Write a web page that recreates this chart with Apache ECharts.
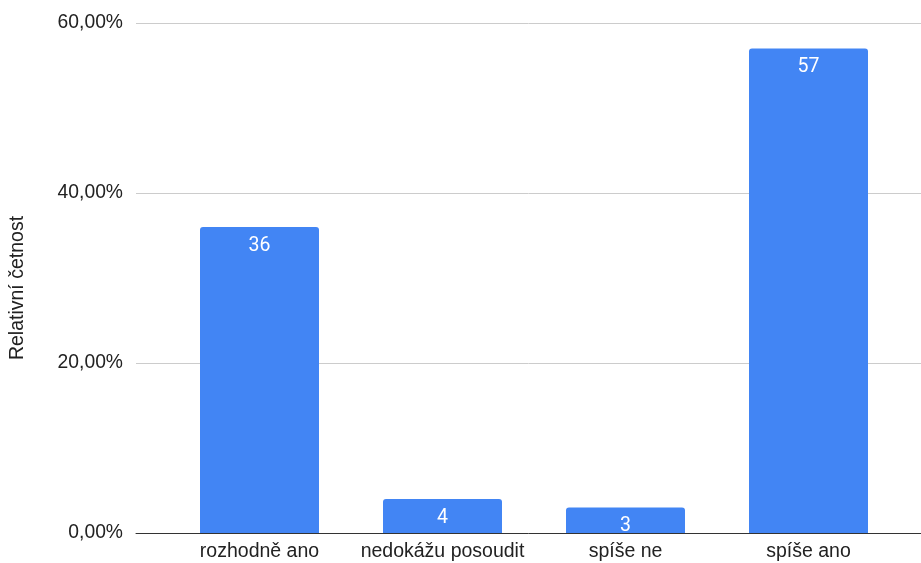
<!DOCTYPE html>
<html>
<head>
<meta charset="utf-8">
<script src="https://cdn.jsdelivr.net/npm/echarts@6/dist/echarts.min.js"></script>
<style>
  html, body { margin: 0; padding: 0; background: #fff; }
  #chart { width: 921px; height: 563px; }
</style>
</head>
<body>
<div id="chart"></div>
<script>
// Survey answers and their relative frequency (%)
const categories = ['rozhodně ano', 'nedokážu posoudit', 'spíše ne', 'spíše ano'];
const values = [36, 4, 3, 57];
const yTicks = [0, 20, 40, 60];
const axisTitle = 'Relativní četnost';

const fontMain = '"Liberation Sans", Arial, sans-serif';
const chart = echarts.init(document.getElementById('chart'), null, { renderer: 'canvas' });

chart.setOption({
  animation: false,
  grid: [
    // gridlines + y labels span the full width
    { left: 136, right: 0, top: 23, bottom: 30 },
    // bars sit in a narrower band
    { left: 168, right: 21, top: 23, bottom: 30 }
  ],
  xAxis: [
    {
      gridIndex: 0, type: 'value', min: 0, max: 1,
      axisLabel: { show: false }, axisTick: { show: false }, splitLine: { show: false },
      axisLine: { show: true, lineStyle: { color: '#333333', width: 1 } }
    },
    {
      gridIndex: 1, type: 'category', data: categories,
      axisLine: { show: false }, axisTick: { show: false },
      axisLabel: { interval: 0, color: '#222222', fontFamily: fontMain, fontSize: 19.5, margin: 9 }
    }
  ],
  yAxis: [
    {
      gridIndex: 0, type: 'value', min: yTicks[0], max: yTicks[yTicks.length - 1], interval: 20,
      name: axisTitle, nameLocation: 'middle', nameRotate: 90, nameGap: 108,
      nameTextStyle: { color: '#222222', fontFamily: fontMain, fontSize: 19.5, padding: [0, 20, 0, 0] },
      axisLine: { show: false }, axisTick: { show: false },
      axisLabel: {
        color: '#222222', fontFamily: fontMain, fontSize: 19.3, margin: 13,
        padding: [3, 0, 0, 0],
        formatter: v => v.toFixed(2).replace('.', ',') + '%'
      },
      splitLine: { show: true, lineStyle: { color: '#cccccc', width: 1 } }
    },
    {
      gridIndex: 1, type: 'value', min: 0, max: 60, interval: 20, show: false
    }
  ],
  series: [
    {
      type: 'bar', xAxisIndex: 1, yAxisIndex: 1,
      data: values,
      barWidth: 119,
      itemStyle: { color: '#4285f4', borderRadius: [3, 3, 0, 0] },
      label: {
        show: true, position: 'insideTop', distance: 9,
        color: '#ffffff', fontFamily: 'Roboto, sans-serif', fontSize: 19.5
      }
    }
  ]
});
</script>
</body>
</html>
